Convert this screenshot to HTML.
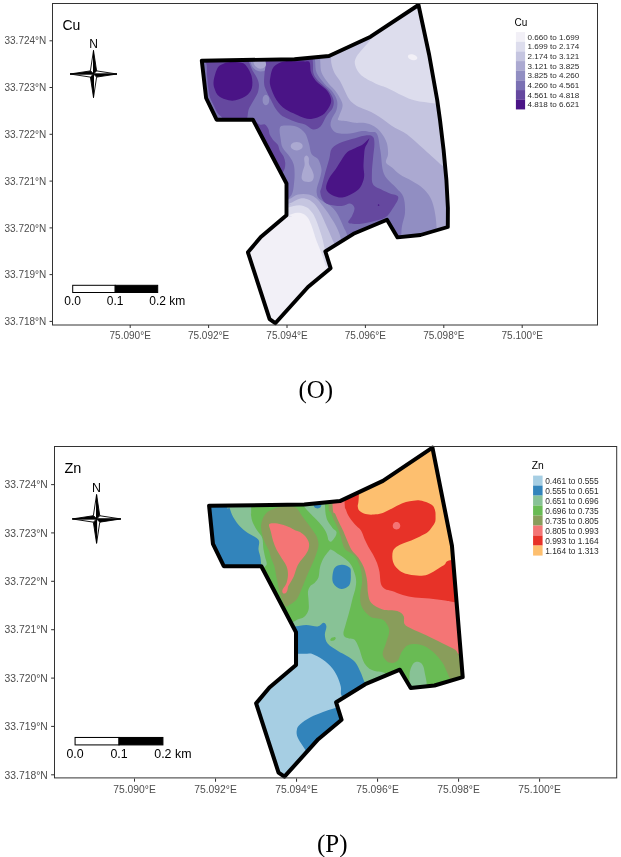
<!DOCTYPE html>
<html><head><meta charset="utf-8"><style>
html,body{margin:0;padding:0;background:#fff;}
svg{display:block;will-change:transform;}
text{font-family:"Liberation Sans",sans-serif;}
.ax{font-size:10px;fill:#4d4d4d;}
.nl{font-size:12px;fill:#000;}
.sb{font-size:12px;fill:#000;}
.pt{font-size:14px;fill:#000;}
.lt{font-size:10px;fill:#000;}
.lg{font-size:8.1px;fill:#2b2b2b;}
.cap{font-family:"Liberation Serif",serif;font-size:25px;fill:#000;}
</style></head><body>
<svg width="621" height="857" viewBox="0 0 621 857">
<rect width="621" height="857" fill="#fff"/>
<g>
<line x1="49.5" y1="321.4" x2="52.5" y2="321.4" stroke="#333" stroke-width="1"/>
<text x="46.3" y="325.0" text-anchor="end" class="ax">33.718°N</text>
<line x1="49.5" y1="274.6" x2="52.5" y2="274.6" stroke="#333" stroke-width="1"/>
<text x="46.3" y="278.2" text-anchor="end" class="ax">33.719°N</text>
<line x1="49.5" y1="227.9" x2="52.5" y2="227.9" stroke="#333" stroke-width="1"/>
<text x="46.3" y="231.5" text-anchor="end" class="ax">33.720°N</text>
<line x1="49.5" y1="181.1" x2="52.5" y2="181.1" stroke="#333" stroke-width="1"/>
<text x="46.3" y="184.7" text-anchor="end" class="ax">33.721°N</text>
<line x1="49.5" y1="134.3" x2="52.5" y2="134.3" stroke="#333" stroke-width="1"/>
<text x="46.3" y="137.9" text-anchor="end" class="ax">33.722°N</text>
<line x1="49.5" y1="87.5" x2="52.5" y2="87.5" stroke="#333" stroke-width="1"/>
<text x="46.3" y="91.1" text-anchor="end" class="ax">33.723°N</text>
<line x1="49.5" y1="40.8" x2="52.5" y2="40.8" stroke="#333" stroke-width="1"/>
<text x="46.3" y="44.4" text-anchor="end" class="ax">33.724°N</text>
<line x1="130.2" y1="325" x2="130.2" y2="328" stroke="#333" stroke-width="1"/>
<text x="130.2" y="338.6" text-anchor="middle" class="ax">75.090°E</text>
<line x1="208.6" y1="325" x2="208.6" y2="328" stroke="#333" stroke-width="1"/>
<text x="208.6" y="338.6" text-anchor="middle" class="ax">75.092°E</text>
<line x1="287.0" y1="325" x2="287.0" y2="328" stroke="#333" stroke-width="1"/>
<text x="287.0" y="338.6" text-anchor="middle" class="ax">75.094°E</text>
<line x1="365.4" y1="325" x2="365.4" y2="328" stroke="#333" stroke-width="1"/>
<text x="365.4" y="338.6" text-anchor="middle" class="ax">75.096°E</text>
<line x1="443.8" y1="325" x2="443.8" y2="328" stroke="#333" stroke-width="1"/>
<text x="443.8" y="338.6" text-anchor="middle" class="ax">75.098°E</text>
<line x1="522.2" y1="325" x2="522.2" y2="328" stroke="#333" stroke-width="1"/>
<text x="522.2" y="338.6" text-anchor="middle" class="ax">75.100°E</text>
<clipPath id="cpo"><polygon points="201.8,60.7 294.5,59.2 329,56 370.6,36.7 418.5,5 429.2,55 437.2,100 440,120 443.6,150 446.4,180 447.9,208 447.8,227 420.5,235 397.5,237.4 387,219.8 353.5,233.8 325.3,251.3 330.6,268.2 308,287 275.3,323.2 269.6,319.2 247.9,252.3 260.8,237 286.5,215.3 286.5,183.5 252.9,119.7 216.6,119.7 206.1,98"/></clipPath>
<g clip-path="url(#cpo)">
<polygon points="201.8,60.7 294.5,59.2 329,56 370.6,36.7 418.5,5 429.2,55 437.2,100 440,120 443.6,150 446.4,180 447.9,208 447.8,227 420.5,235 397.5,237.4 387,219.8 353.5,233.8 325.3,251.3 330.6,268.2 308,287 275.3,323.2 269.6,319.2 247.9,252.3 260.8,237 286.5,215.3 286.5,183.5 252.9,119.7 216.6,119.7 206.1,98" fill="#f2f0f7"/>
<path d="M150,218L280,217C303.1,216.5 285.7,215.8 288.5,215.1C291.3,214.4 294.4,213 296.9,212.8C299.4,212.6 301.6,213.1 303.5,214C305.4,214.9 306.7,216.2 308,218C309.3,219.8 310.3,222.6 311.3,225C312.3,227.4 313,230 313.8,232.5C314.6,235 315.2,237.2 316.2,240C317.2,242.8 318.7,246.2 319.8,249C320.9,251.8 321.7,254.1 322.8,257C323.9,259.9 324.5,263.3 326.2,266.6L333,277L470,277L470,-10L150,-10L150,218Z" fill="#dddded"/>
<path d="M150,208L280,207.5C303.1,207.4 285.3,207.6 288.5,207.2C291.7,206.8 296.1,205.1 299.2,205.2C302.3,205.2 304.8,206.2 307,207.5C309.2,208.8 310.9,210.8 312.5,213C314.1,215.2 315.2,218 316.5,221C317.8,224 318.9,227.8 320,231C321.1,234.2 322,237 322.8,240C323.6,243 323.6,246.1 325,248.9L331,257L470,257L470,104L445,103.6C438.9,103.5 438.1,103.7 433.1,103.2C428.1,102.7 420.2,101.9 415.1,100.6C410,99.3 406.9,97.7 402.2,95.5C397.5,93.3 391.2,89.7 386.7,87.7C382.2,85.7 379.6,85.5 375.3,83.4C371.1,81.3 364.6,78.3 361.2,75.3C357.8,72.3 356,68.3 355.2,65.3C354.4,62.3 354.7,60.2 356.2,57.2C357.7,54.2 361.6,50.5 364.3,47.1C367,43.8 369.7,41.6 372.3,37.1L380,20L380,-10L150,-10L150,208Z" fill="#c5c5e0"/>
<path d="M150,204L280,204C303.1,204 285.1,204.7 288.5,203.8C291.9,202.9 297,199.2 300.3,198.5C303.6,197.8 305.8,198.6 308.2,199.5C310.6,200.4 312.7,202.2 314.5,204C316.3,205.8 317.6,208 318.8,210C320.1,212 320.8,213.6 322,216C323.2,218.4 324.5,221.6 325.8,224.5C327.1,227.4 328.6,230.8 329.8,233.5C331,236.2 331.8,238.4 333,241L337,249L470,252L470,176L452,172C447.3,170.2 444.5,167.2 441.7,165.1C438.9,163 437.7,161.7 435.3,159.5C432.9,157.3 429.9,154.6 427.2,152.2C424.5,149.8 421.9,147.4 419.2,145C416.5,142.6 413.8,139.9 411.1,137.7C408.5,135.5 405.9,133.6 403.3,132C400.7,130.4 398,129.6 395.3,128C392.6,126.4 389.9,124.3 387.2,122.4C384.5,120.5 381.9,118.5 379.2,116.7C376.5,115 373.8,113.2 371.1,111.9C368.4,110.6 365.7,109.9 363,108.7C360.3,107.5 357.3,106.3 355,104.7C352.7,103.1 351,101.8 349.2,99.3C347.4,96.8 345.8,92.8 344.3,89.7C342.8,86.7 341.6,83.8 340,81C338.4,78.2 335.9,75.8 334.5,73C333.1,70.2 332.1,66.8 331.5,64C330.9,61.2 331.2,60 331,56L330,40L330,-10L150,-10L150,204Z" fill="#aba9d1"/>
<path d="M150,-10L320,-10L320.2,50C320.2,62 320.1,58.1 320.3,62C320.6,65.8 320.2,69.4 321.7,73.1C323.1,76.8 326.7,81 329,84C331.3,87 333.5,88.3 335.5,91C337.5,93.7 339.8,97.4 341,100C342.2,102.6 342.8,103.8 342.5,106.4C342.2,109 340,113.2 339.3,115.4C338.6,117.7 337.1,119 338.2,119.9C339.3,120.8 343.3,120.5 346.1,121C348.9,121.5 352.2,122.5 355,122.8C357.8,123.1 360.3,122.5 363,122.8C365.7,123.1 368.7,123.8 371.1,124.8C373.5,125.8 375.6,127.2 377.5,128.8C379.4,130.4 381,132.6 382.4,134.5C383.8,136.4 384.8,138.2 385.6,140.1C386.5,142 387.1,143.6 387.5,146C387.9,148.4 388.2,151.9 388,154.7C387.8,157.4 385.3,160.3 386,162.5C386.7,164.7 389.7,165.6 392,167.6C394.3,169.6 396.7,172.3 400,174.5C403.3,176.7 408.2,178.8 412,181C415.8,183.2 419.5,185.3 422.5,188C425.5,190.7 428.1,193.7 430,197C431.9,200.3 432.9,203.1 434,208C435.1,212.9 436,217.5 436.5,226.5L437,262L354,262L342,241C339.6,236.3 340.4,236.3 339.5,234C338.6,231.7 337.7,229.3 336.5,227C335.3,224.7 334.1,222.6 332.5,220C330.9,217.4 328.8,214 327,211.5C325.2,209 323.8,207.2 322,205C320.2,202.8 318.7,200.2 316.5,198.5C314.3,196.8 312.1,195.2 309,194.5C305.9,193.8 301.3,193.7 298,194.5C294.7,195.3 292.7,197.7 289,199.3L276,204L150,204L150,-10Z" fill="#918ec2"/>
<path d="M150,-10L315,-10L315,52C315,64 314.9,58.5 315.2,62C315.5,65.5 315.1,69.4 316.7,73.1C318.3,76.8 322.1,81 324.6,84C327.1,87 329.8,88.2 331.9,91C334,93.8 336.2,97.3 337,100.5C337.8,103.7 337.4,106.8 336.5,110C335.6,113.2 332.3,117.1 331.4,119.9C330.5,122.7 330.1,124.8 331,127C331.9,129.2 333.8,131.9 337,133C340.2,134.1 345.8,133.8 350,133.5C354.2,133.2 358.7,131.2 362,131C365.3,130.8 367.5,131.5 370,132C372.5,132.5 375.2,130.8 377,134C378.8,137.2 379.3,144.6 380.5,151.3C381.7,158 381.4,167.9 384,174C386.6,180.1 393.1,184.2 396.3,188C399.5,191.8 401.9,192.7 403.3,196.8C404.8,200.9 405.3,207 405,212.5C404.7,218 402.3,221.8 401.5,230L400,262L354,262L347.5,236C345.8,230.3 345.2,230.7 344,228C342.8,225.3 341.8,222.7 340.5,220C339.2,217.3 337.8,214.1 336,211.7C334.2,209.3 332.2,207.2 330,205.5C327.8,203.8 324.9,202.8 323,201.5C321.1,200.2 319.6,199.4 318.5,198C317.4,196.6 316.9,194.8 316.7,193C316.4,191.2 316.6,189.5 317,187.5C317.4,185.5 318.3,183.4 319,181.2C319.7,178.9 320.6,176.2 321,174C321.4,171.8 321.8,170.5 321.3,168C320.8,165.5 319.6,161.4 318,159.1C316.4,156.8 313,156.6 311.5,154C310,151.4 310.1,147.1 309,143.7C307.9,140.2 307,136.1 305.1,133.3C303.2,130.5 300.6,128.2 297.4,126.9C294.2,125.6 288.7,125.4 285.8,125.6C282.9,125.8 280.6,125.5 279.8,127.9C279,130.3 280.3,136.5 280.8,139.8C281.3,143.1 281.2,144.9 282.7,147.7C284.2,150.5 287.9,153.9 289.7,156.7C291.5,159.5 292.9,161.6 293.7,164.6C294.5,167.6 294.6,170.9 294.6,174.5C294.6,178.1 294.2,183 293.7,186.4C293.2,189.8 292.9,192.2 291.5,195L285,203L150,203L150,-10Z" fill="#7a70b3"/>
<path d="M249,58L250.5,62.1C251.1,63.6 251.5,65.6 252.6,67C253.7,68.4 255.4,69.8 256.8,70.5C258.2,71.2 259.6,71.4 261,71.4C262.4,71.4 264,71.2 265.2,70.5C266.4,69.8 267.3,68.4 268,67C268.7,65.6 269.1,63.6 269.4,62.1L270,58L249,58Z" fill="#918ec2"/>
<path d="M252.5,58L253.3,62.1C253.8,63.5 254.2,65.2 255.4,66.3C256.6,67.4 258.7,68.7 260.3,68.8C261.9,68.9 264,67.9 265.2,66.8C266.4,65.7 266.8,63.6 267.3,62.1L268,58L252.5,58Z" fill="#aba9d1"/>
<path d="M269.2,100C269.2,100.9 269,101.9 268.8,102.7C268.5,103.4 268,104.1 267.5,104.6C267.1,105 266.4,105.3 265.9,105.3C265.3,105.3 264.7,105 264.2,104.6C263.8,104.1 263.3,103.4 263,102.7C262.8,101.9 262.6,100.9 262.6,100C262.6,99.1 262.8,98.1 263,97.3C263.3,96.6 263.8,95.9 264.2,95.4C264.7,95 265.3,94.7 265.9,94.7C266.4,94.7 267.1,95 267.5,95.4C268,95.9 268.5,96.6 268.8,97.3C269,98.1 269.2,99.1 269.2,100Z" fill="#918ec2"/>
<path d="M302.7,146.2C302.7,146.9 302.4,147.7 301.9,148.3C301.4,148.9 300.6,149.5 299.7,149.8C298.8,150.2 297.7,150.4 296.7,150.4C295.7,150.4 294.6,150.2 293.7,149.8C292.8,149.5 292,148.9 291.5,148.3C291,147.7 290.7,146.9 290.7,146.2C290.7,145.5 291,144.7 291.5,144.1C292,143.5 292.8,142.9 293.7,142.6C294.6,142.2 295.7,142 296.7,142C297.7,142 298.8,142.2 299.7,142.6C300.6,142.9 301.4,143.5 301.9,144.1C302.4,144.7 302.7,145.5 302.7,146.2Z" fill="#aba9d1"/>
<path d="M306.4,155.5C307.2,155.5 308.4,156.6 308.8,158C309.2,159.4 308.5,162 309,164C309.5,166 311.2,168 312,170C312.8,172 313.8,174.2 313.8,176C313.8,177.8 313.3,180 312,181C310.7,182 307.7,182.1 306,181.8C304.3,181.5 302.4,180.6 301.8,179C301.2,177.4 302,174.3 302.5,172C303,169.7 304.3,167.3 304.6,165C304.9,162.7 303.9,159.6 304.2,158C304.5,156.4 305.6,155.5 306.4,155.5Z" fill="#aba9d1"/>
<path d="M150,-10L249,-10L249,58C249.1,70.2 248.9,60.9 249.5,63C250.1,65.1 251.2,68 252.5,70.5C253.8,73 255.9,75.7 257,78C258.1,80.3 258.7,82.2 258.9,84.5C259.1,86.8 258.6,89.8 258,92C257.4,94.2 256.1,96 255,98C253.9,100 252.6,102 251.5,104C250.4,106 249.3,107.3 248.5,110C247.7,112.7 247.9,117.5 246.5,120L240,125L150,125L150,-10Z" fill="#65489f"/>
<path d="M264.5,74C264.8,70.8 265.1,67.5 266,65C266.9,62.5 262.7,60.1 270,59C277.3,57.9 302.9,58.2 310,58.5C317.1,58.8 312.1,58.6 312.7,61C313.3,63.4 312.7,70 313.4,73.1C314.1,76.2 315.6,77.7 317,79.5C318.4,81.3 319.7,82.1 321.7,84C323.7,85.9 327,88.3 329,91C331,93.7 332.9,97.2 333.5,100C334.1,102.8 333.8,105.3 332.6,108C331.4,110.7 328.5,112.9 326.5,116C324.5,119.1 322.8,124.2 320.5,126.5C318.2,128.8 315.6,129.8 313,129.5C310.4,129.2 307.8,125.8 305,124.5C302.2,123.2 298.8,123 296,122C293.2,121 290.5,120 288,118.8C285.5,117.6 283.1,116.7 281,115C278.9,113.3 277.2,111 275.5,108.5C273.8,106 272.5,102.8 271,100C269.5,97.2 267.7,94.1 266.6,91.5C265.5,88.9 264.6,87.4 264.2,84.5C263.8,81.6 264.2,77.2 264.5,74Z" fill="#65489f"/>
<path d="M250,118L259.4,124.4C261.9,125.5 263.4,123.7 264.9,124.4C266.4,125.2 267.6,127.2 268.4,128.9C269.2,130.6 268.9,132.8 269.8,134.8C270.7,136.8 272.5,139.1 273.8,140.8C275.1,142.5 276.8,143.2 277.8,144.8C278.8,146.5 278.8,148.7 279.8,150.7C280.8,152.7 282.8,154.7 283.7,156.7C284.6,158.7 285,160.6 285.2,162.6C285.4,164.6 285.1,166.9 284.7,168.6C284.3,170.2 283.5,171.3 282.7,172.5L280,176L250,176L250,118Z" fill="#65489f"/>
<path d="M366.7,135.3C369.7,135.1 371.8,135.4 373.1,136.9C374.4,138.4 374.4,141.2 374.4,144.6C374.4,148 373.5,152.8 373.1,157.5C372.7,162.2 371.9,168.5 371.9,173C371.9,177.5 371.4,181.8 373.1,184.6C374.8,187.4 379.4,188.5 382.2,190C385,191.5 387.3,192.3 390,193.5C392.7,194.7 397.9,194.6 398.3,197.2C398.7,199.8 394.7,205.4 392.5,208.8C390.3,212.2 388.8,215.3 385.2,217.5C381.6,219.7 375.5,220.8 370.7,221.9C365.9,223 359.9,223.9 356.2,224C352.5,224.1 349,223.9 348.3,222.6C347.6,221.3 351,218.4 352,216C353,213.6 354.8,210.1 354.5,208C354.2,205.9 352.1,203.8 350,203.5C347.9,203.2 345.2,205.8 341.7,206C338.1,206.2 331.8,205.5 328.7,204.5C325.6,203.5 324.3,202 322.9,200C321.5,198 320.5,194.4 320.3,192.3C320.1,190.2 320.7,190.6 321.6,187.2C322.5,183.8 324.2,176.4 325.5,171.7C326.8,167 328.2,162.7 329.3,158.8C330.4,154.9 329.8,151.3 331.9,148.5C334,145.7 338.3,143.8 342.2,142.1C346.1,140.4 351,139.3 355.1,138.2C359.2,137.1 363.7,135.5 366.7,135.3Z" fill="#65489f"/>
<path d="M195,58L205.6,62C207.6,64.8 206.6,70.7 207,75C207.4,79.3 207.8,84.2 208.3,88C208.8,91.8 209.1,94.7 210,97.5C210.9,100.3 212.2,102.4 213.5,105C214.8,107.6 216.1,110.9 217.5,113C218.9,115.1 221.2,116 222,117.8L222,124L205,124L195,58Z" fill="#7a70b3"/>
<path d="M213.7,80.5C214.2,77 216,70.5 217.7,67.7C219.4,64.9 221.8,64.5 224,63.5C226.2,62.5 228.3,62.2 230.6,62C232.9,61.8 235.6,61.9 238,62.3C240.4,62.7 242.8,62.2 245.1,64.4C247.3,66.6 250.4,71.7 251.5,75.7C252.6,79.7 252.8,85.1 251.7,88.6C250.6,92.1 248.3,94.6 245.1,96.6C241.8,98.6 236.5,100.7 232.2,100.7C227.9,100.7 222.2,98.6 219.3,96.6C216.4,94.6 215.4,91.3 214.5,88.6C213.6,85.9 213.2,84 213.7,80.5Z" fill="#4a1486"/>
<path d="M270.4,77C271,73.8 271.5,69.4 273.8,66.8C276.1,64.2 280.1,62.4 284,61.5C287.9,60.6 293.5,61.3 297,61.3C300.5,61.3 302.9,61.2 305,61.4C307.1,61.6 308.6,60.7 309.6,62.5C310.6,64.3 310.1,69.2 310.9,72C311.7,74.8 313.1,77 314.5,79C315.9,81 317.4,82.3 319.6,84.3C321.8,86.3 325.6,88.6 327.5,91.2C329.4,93.8 330.9,97.2 331.2,99.9C331.4,102.6 330.4,104.7 329,107.2C327.6,109.7 325.3,113.1 322.5,115C319.7,116.9 315.3,118.3 312.3,118.8C309.3,119.3 307,118.7 304.3,118C301.6,117.3 299.1,116 296,114.5C292.9,113 288.8,111.7 285.5,109.3C282.2,106.9 279,103.9 276.5,100C274,96.1 271.4,89.8 270.4,86C269.4,82.2 269.8,80.2 270.4,77Z" fill="#4a1486"/>
<path d="M369.3,138.5C369.5,138.8 368.2,141.4 367.5,143C366.8,144.6 365.6,146 365,148C364.4,150 364.4,151.9 364.1,155C363.9,158.1 363.5,162.8 363.5,166.5C363.5,170.2 364.6,173.5 364.1,176.9C363.6,180.3 362.2,184.4 360.3,187.2C358.4,190 355.5,191.9 352.5,193.6C349.5,195.3 345.6,197.3 342.2,197.5C338.8,197.7 334.6,196.4 331.9,194.9C329.2,193.4 326.5,191.3 326.1,188.5C325.7,185.7 327.7,181.3 329.3,178.1C330.9,174.9 333.7,172.3 335.8,169.1C337.9,165.9 340.3,161.7 342.2,158.8C344.1,156 345.3,153.8 347.4,152C349.5,150.2 352.6,149.4 355,148.2C357.4,147 360.1,146.2 362,145C363.9,143.8 365.3,142.1 366.5,141C367.7,139.9 369.1,138.2 369.3,138.5Z" fill="#4a1486"/>
<path d="M379.4,205.1C379.4,205.2 379.4,205.4 379.3,205.5C379.2,205.6 379.1,205.7 379,205.8C378.9,205.9 378.7,205.9 378.6,205.9C378.5,205.9 378.3,205.9 378.2,205.8C378.1,205.7 378,205.6 377.9,205.5C377.8,205.4 377.8,205.2 377.8,205.1C377.8,205 377.8,204.8 377.9,204.7C378,204.6 378.1,204.5 378.2,204.4C378.3,204.3 378.5,204.3 378.6,204.3C378.7,204.3 378.9,204.3 379,204.4C379.1,204.5 379.2,204.6 379.3,204.7C379.4,204.8 379.4,205 379.4,205.1Z" fill="#4a1486"/>
<path d="M417.2,58.4C417.1,58.9 416.7,59.3 416.3,59.6C415.8,59.9 415,60.1 414.3,60.2C413.6,60.2 412.6,60.1 411.9,59.9C411.1,59.7 410.3,59.3 409.7,58.9C409,58.5 408.5,58 408.2,57.5C407.9,57 407.8,56.4 408,56C408.1,55.5 408.5,55.1 408.9,54.8C409.4,54.5 410.2,54.3 410.9,54.2C411.6,54.2 412.6,54.3 413.3,54.5C414.1,54.7 414.9,55.1 415.5,55.5C416.2,55.9 416.7,56.4 417,56.9C417.3,57.4 417.4,58 417.2,58.4Z" fill="#f2f0f7"/>
</g>
<polygon points="201.8,60.7 294.5,59.2 329,56 370.6,36.7 418.5,5 429.2,55 437.2,100 440,120 443.6,150 446.4,180 447.9,208 447.8,227 420.5,235 397.5,237.4 387,219.8 353.5,233.8 325.3,251.3 330.6,268.2 308,287 275.3,323.2 269.6,319.2 247.9,252.3 260.8,237 286.5,215.3 286.5,183.5 252.9,119.7 216.6,119.7 206.1,98" fill="none" stroke="#000" stroke-width="3.9" stroke-linejoin="round"/>
<text x="62.5" y="30" class="pt">Cu</text>
<text x="93.5" y="47.6" text-anchor="middle" class="nl">N</text>
<polygon points="93.5,74 93.5,50.5 90.4,70.9" fill="#fff" stroke="#000" stroke-width="0.9" stroke-linejoin="miter"/>
<polygon points="93.5,74 93.5,50.5 96.6,70.9" fill="#000" stroke="#000" stroke-width="0.9" stroke-linejoin="miter"/>
<polygon points="93.5,74 117,74 96.6,70.9" fill="#fff" stroke="#000" stroke-width="0.9" stroke-linejoin="miter"/>
<polygon points="93.5,74 117,74 96.6,77.1" fill="#000" stroke="#000" stroke-width="0.9" stroke-linejoin="miter"/>
<polygon points="93.5,74 93.5,97.5 96.6,77.1" fill="#fff" stroke="#000" stroke-width="0.9" stroke-linejoin="miter"/>
<polygon points="93.5,74 93.5,97.5 90.4,77.1" fill="#000" stroke="#000" stroke-width="0.9" stroke-linejoin="miter"/>
<polygon points="93.5,74 70,74 90.4,77.1" fill="#fff" stroke="#000" stroke-width="0.9" stroke-linejoin="miter"/>
<polygon points="93.5,74 70,74 90.4,70.9" fill="#000" stroke="#000" stroke-width="0.9" stroke-linejoin="miter"/>
<rect x="72.7" y="285.3" width="42.5" height="7.2" fill="#fff" stroke="#000" stroke-width="1"/>
<rect x="115.2" y="285.3" width="42.5" height="7.2" fill="#000" stroke="#000" stroke-width="1"/>
<text x="72.7" y="305" text-anchor="middle" class="sb">0.0</text>
<text x="115.2" y="305" text-anchor="middle" class="sb">0.1</text>
<text x="149.35" y="305" class="sb">0.2 km</text>
<text x="514.6" y="25.6" class="lt">Cu</text>
<rect x="515.9" y="32.10" width="9.2" height="9.71" fill="#f2f0f7"/>
<text x="527.6" y="39.83" class="lg">0.660 to 1.699</text>
<rect x="515.9" y="41.76" width="9.2" height="9.71" fill="#dddded"/>
<text x="527.6" y="49.49" class="lg">1.699 to 2.174</text>
<rect x="515.9" y="51.42" width="9.2" height="9.71" fill="#c5c5e0"/>
<text x="527.6" y="59.15" class="lg">2.174 to 3.121</text>
<rect x="515.9" y="61.08" width="9.2" height="9.71" fill="#aba9d1"/>
<text x="527.6" y="68.81" class="lg">3.121 to 3.825</text>
<rect x="515.9" y="70.74" width="9.2" height="9.71" fill="#918ec2"/>
<text x="527.6" y="78.47" class="lg">3.825 to 4.260</text>
<rect x="515.9" y="80.40" width="9.2" height="9.71" fill="#7a70b3"/>
<text x="527.6" y="88.13" class="lg">4.260 to 4.561</text>
<rect x="515.9" y="90.06" width="9.2" height="9.71" fill="#65489f"/>
<text x="527.6" y="97.79" class="lg">4.561 to 4.818</text>
<rect x="515.9" y="99.72" width="9.2" height="9.71" fill="#4a1486"/>
<text x="527.6" y="107.45" class="lg">4.818 to 6.621</text>
</g>
<g transform="matrix(1.0334 0 0 1.0342 -0.05 442.41)">
<line x1="49.5" y1="321.4" x2="52.5" y2="321.4" stroke="#333" stroke-width="1"/>
<text x="46.3" y="325.0" text-anchor="end" class="ax">33.718°N</text>
<line x1="49.5" y1="274.6" x2="52.5" y2="274.6" stroke="#333" stroke-width="1"/>
<text x="46.3" y="278.2" text-anchor="end" class="ax">33.719°N</text>
<line x1="49.5" y1="227.9" x2="52.5" y2="227.9" stroke="#333" stroke-width="1"/>
<text x="46.3" y="231.5" text-anchor="end" class="ax">33.720°N</text>
<line x1="49.5" y1="181.1" x2="52.5" y2="181.1" stroke="#333" stroke-width="1"/>
<text x="46.3" y="184.7" text-anchor="end" class="ax">33.721°N</text>
<line x1="49.5" y1="134.3" x2="52.5" y2="134.3" stroke="#333" stroke-width="1"/>
<text x="46.3" y="137.9" text-anchor="end" class="ax">33.722°N</text>
<line x1="49.5" y1="87.5" x2="52.5" y2="87.5" stroke="#333" stroke-width="1"/>
<text x="46.3" y="91.1" text-anchor="end" class="ax">33.723°N</text>
<line x1="49.5" y1="40.8" x2="52.5" y2="40.8" stroke="#333" stroke-width="1"/>
<text x="46.3" y="44.4" text-anchor="end" class="ax">33.724°N</text>
<line x1="130.2" y1="325" x2="130.2" y2="328" stroke="#333" stroke-width="1"/>
<text x="130.2" y="338.6" text-anchor="middle" class="ax">75.090°E</text>
<line x1="208.6" y1="325" x2="208.6" y2="328" stroke="#333" stroke-width="1"/>
<text x="208.6" y="338.6" text-anchor="middle" class="ax">75.092°E</text>
<line x1="287.0" y1="325" x2="287.0" y2="328" stroke="#333" stroke-width="1"/>
<text x="287.0" y="338.6" text-anchor="middle" class="ax">75.094°E</text>
<line x1="365.4" y1="325" x2="365.4" y2="328" stroke="#333" stroke-width="1"/>
<text x="365.4" y="338.6" text-anchor="middle" class="ax">75.096°E</text>
<line x1="443.8" y1="325" x2="443.8" y2="328" stroke="#333" stroke-width="1"/>
<text x="443.8" y="338.6" text-anchor="middle" class="ax">75.098°E</text>
<line x1="522.2" y1="325" x2="522.2" y2="328" stroke="#333" stroke-width="1"/>
<text x="522.2" y="338.6" text-anchor="middle" class="ax">75.100°E</text>
<clipPath id="cpp"><polygon points="202.4,61.2 294.5,60.1 329,56.7 370.6,37.2 418.5,5 437.4,100 447.8,227 420.5,235 397.5,237.4 387,219.8 353.5,233.8 325.3,251.3 330.6,268.2 308,287 275.3,323.2 269.6,319.2 247.9,252.3 260.8,237 286.5,215.3 286.5,183.5 252.9,119.7 216.6,119.7 206.1,98"/></clipPath>
<g clip-path="url(#cpp)">
<polygon points="202.4,61.2 294.5,60.1 329,56.7 370.6,37.2 418.5,5 437.4,100 447.8,227 420.5,235 397.5,237.4 387,219.8 353.5,233.8 325.3,251.3 330.6,268.2 308,287 275.3,323.2 269.6,319.2 247.9,252.3 260.8,237 286.5,215.3 286.5,183.5 252.9,119.7 216.6,119.7 206.1,98" fill="#a6cee3"/>
<path d="M145.2,204.3L287.9,204.3C313.6,204.2 295.4,203 299.1,203.6C302.7,204.3 306.3,206.2 309.7,208.3C313.1,210.4 317,213.3 319.7,216.2C322.4,219 324.3,222.1 326,225.4C327.7,228.7 329,232.7 329.8,236C330.6,239.3 329,242.7 330.8,245.2L340.7,251L483.9,251L483.9,-41L145.2,-41L145.2,204.3Z" fill="#3284bb"/>
<path d="M145.2,-41L218.7,-41L219.5,54.7C220.1,72.1 221.1,60.2 222.1,63.1C223.2,66.1 224.1,69.4 225.8,72.4C227.5,75.4 229.8,78.6 232.1,81.1C234.4,83.6 236.9,85.5 239.5,87.4C242.2,89.3 246.4,91 248.3,92.4C250.1,93.9 250.5,94.2 250.8,96.1C251.1,98 250,101.1 250.2,103.5C250.4,106 251.6,108.4 252,111.1C252.5,113.7 252.6,115.8 252.9,119.5L253.6,133L280.7,177.9L285,177.9C287.6,177.7 292.5,176.5 296.3,176.5C300,176.5 304.7,178.2 307.5,177.9C310.3,177.6 311.7,174.4 313.1,174.4C314.5,174.4 315.7,175.9 315.9,177.9C316.1,179.9 314.2,183.5 314.4,186.3C314.7,189.1 315.1,192.2 317.3,194.7C319.4,197.3 324,199.7 327.1,201.7C330.2,203.7 333.1,204.8 335.8,206.5C338.6,208.3 341.4,209.7 343.6,212.3C345.8,214.9 347.4,218.9 348.9,222C350.3,225.1 351.1,227.8 352.3,230.7L356.2,239.4L483.9,239.4L483.9,-41L145.2,-41Z" fill="#88c296"/>
<path d="M145.2,-41L243.1,-41L243.1,62.9C243.1,81.1 242.8,66.1 242.9,68.3C243.1,70.4 243.2,73.5 244.1,76.1C245,78.7 246.6,81.6 248.1,83.9C249.5,86.3 251.7,88.3 252.7,90.1C253.7,91.9 253.9,92.5 254.3,94.7C254.6,97 254.6,100.6 255,103.4C255.4,106.1 256.1,108.6 256.6,111.1C257.1,113.6 258.8,116.2 257.9,118.5L251.6,125.3L280.7,173.7L283.6,173.7C284.8,173.2 286.2,172 287.9,171.2C289.7,170.4 292.4,170.3 294.2,168.8C296,167.3 297.9,164.8 298.6,162C299.3,159.3 298.7,155.4 298.6,152.4C298.5,149.4 297.8,146.4 298.1,144.2C298.4,141.9 299.5,140 300.5,138.6C301.6,137.3 303.1,137.3 304.4,135.9C305.7,134.6 307.4,133 308.3,130.4C309.1,127.9 308.9,123.7 309.7,120.7C310.5,117.6 311.7,114.5 313.1,112C314.5,109.4 316.7,106.9 317.9,105.5C319.2,104.1 319,103.2 320.7,103.7C322.5,104.3 325.8,106.9 328.4,108.7C330.9,110.4 334,112.3 336,114.1C338,115.9 339.1,117.2 340.4,119.6C341.7,122 342.9,125.8 343.7,128.3C344.4,130.8 344.7,132.5 344.7,134.9C344.7,137.2 344.2,139.9 343.7,142.4C343.1,144.9 342.2,147.3 341.4,150.1C340.7,152.8 340,156.1 339.3,158.9C338.6,161.6 338.1,163.5 337.3,166.4C336.5,169.3 335.2,173.7 334.4,176.6C333.6,179.5 332.6,182 332.4,183.8C332.3,185.7 332.5,186.7 333.4,187.7C334.3,188.6 336.1,189.1 337.8,189.6C339.4,190.1 341.6,189.4 343.2,190.9C344.8,192.4 345.9,195.2 347.3,198.6C348.8,202 350.1,208.1 351.6,211.3C353.1,214.4 354.3,216 356.2,217.6C358,219.3 359.7,220 362.6,221C365.5,222.1 370.8,220.9 373.6,223.9L379.4,239.4L483.9,239.4L483.9,-41L145.2,-41Z" fill="#69bb54"/>
<path d="M252.7,80C253,77.4 254.1,74.3 255,72.2C256,70.2 257.1,68.9 258.4,67.8C259.7,66.6 261.2,66 262.9,65.2C264.6,64.4 266.6,63.5 268.6,63C270.5,62.5 272.5,62.2 274.5,62.1C276.5,61.9 278.6,61.7 280.7,62C282.7,62.2 285,62.1 286.9,63.4C288.7,64.8 290.1,67.9 291.7,70.2C293.3,72.4 295.1,74.9 296.6,77C298.2,79.1 299.7,81 301,82.8C302.3,84.5 303.4,86.1 304.4,87.6C305.4,89.1 306.3,90.2 306.9,91.9C307.5,93.7 308.2,96.2 308.3,98.2C308.3,100.2 308,101.6 307.3,104C306.6,106.5 305.5,109.7 304.2,113C302.8,116.4 300.7,120.8 299.2,124.2C297.7,127.7 296.6,130.1 295.2,133.6C293.7,137.1 291.9,142.2 290.4,145.3C289,148.4 288.3,150.3 286.6,152.3C284.9,154.2 282,156 280.3,157C278.6,158.1 277.7,159.6 276.4,158.6C275.1,157.5 273.6,153.3 272.5,150.7C271.5,148.1 270.9,145.6 270.2,143C269.6,140.4 269.1,137.8 268.6,135.2C268,132.6 267.5,130 267,127.4C266.5,124.8 266.3,122.2 265.5,119.6C264.7,117 263.3,114.4 262.4,111.8C261.5,109.2 261.2,106.7 260.1,104C259,101.3 256.9,98.2 255.8,95.5C254.7,92.8 254,90.4 253.5,87.8C253,85.2 252.5,82.6 252.7,80Z" fill="#899d5b"/>
<path d="M317.4,-2.3L318,60.2C318.4,71.7 319.2,64.4 320,66.7C320.8,69 321.7,71.8 322.8,74.3C323.9,76.7 325.3,79.1 326.4,81.7C327.6,84.3 328.7,87.5 329.5,90.1C330.4,92.8 330.6,95.2 331.5,97.6C332.3,99.9 332.7,102 334.7,104C336.6,106 340.8,106.8 343.1,109.6C345.4,112.4 347.5,116.8 348.7,120.9C349.9,124.9 350.5,129.7 350.5,133.9C350.5,138.1 348.9,142.4 348.7,146.1C348.5,149.8 348.4,153.4 349.2,156.3C350,159.3 351.6,161.6 353.3,163.8C355.1,166 357.8,168.3 359.9,169.4C362,170.5 363.8,169.8 365.8,170.3C367.8,170.8 370.1,170.6 371.9,172.5C373.7,174.4 376.4,178.1 376.7,181.8C376.9,185.4 374.5,190.3 373.5,194.2C372.4,198.1 369.8,202.1 370.4,205.2C370.9,208.3 374.3,211.9 376.7,212.9C379,213.9 382.3,213.2 384.4,211.4C386.5,209.6 387.2,204.7 389.1,202.1C390.9,199.5 392.2,196.8 395.3,195.8C398.5,194.7 403.9,194.7 407.8,195.8C411.7,196.8 415.3,199.2 418.7,202.1C422,204.9 425.7,209.5 428.1,212.9C430.4,216.3 431.4,219.7 432.7,222.3C434,224.9 433.7,225.6 435.8,228.5L445.2,239.4L483.9,239.4L483.9,-2.3L317.4,-2.3Z" fill="#899d5b"/>
<path d="M260.5,79.2C261.3,77.8 264.4,78.1 266.7,78.2C269.1,78.3 272.1,79.2 274.5,79.9C276.8,80.5 278.9,81.4 280.8,82.3C282.6,83.1 283.9,84.2 285.5,84.9C287.1,85.6 288.7,85.6 290.4,86.6C292,87.6 294.3,89.3 295.7,91C297.1,92.7 298.4,94.8 298.9,96.8C299.4,98.8 299.2,101 298.6,103.1C298,105.2 296.5,107.4 295.2,109.4C293.9,111.3 292.1,112.9 290.8,114.7C289.6,116.4 288.8,117.5 287.6,120C286.5,122.5 285.4,127 284.2,129.8C282.9,132.5 281.2,135 280.3,136.7C279.4,138.4 279.1,138.7 278.7,139.8C278.4,140.9 278.5,142.2 278.1,143.2C277.7,144.2 277,145.5 276.3,145.9C275.6,146.3 274.4,146.2 273.9,145.8C273.4,145.4 273.1,144.3 273.2,143.5C273.3,142.6 273.7,142 274.4,140.8C275.1,139.5 276.6,138.2 277.3,135.9C278,133.7 278.8,130.2 278.7,127.4C278.7,124.7 278.2,122.2 277.2,119.6C276.2,117 274.1,114.4 272.5,111.8C271,109.2 269.2,106.7 267.8,104C266.5,101.3 265.4,98.5 264.4,95.5C263.5,92.6 262.7,89 262.1,86.2C261.5,83.5 259.8,80.5 260.5,79.2Z" fill="#f47575"/>
<path d="M321.3,-2.3L321.8,60.2C322.4,72.2 323.5,66.6 324.6,69.5C325.7,72.5 327.1,75.3 328.4,77.9C329.6,80.6 330.8,82.6 332.1,85.4C333.3,88.1 334.5,91.3 335.8,94.4C337.2,97.5 338.4,101.2 340.3,104C342.1,106.9 344.8,108.5 346.9,111.5C348.9,114.4 351.1,118.1 352.5,121.8C353.9,125.6 354.7,129.9 355.3,133.9C355.9,138 355.5,142.5 356.2,146.1C356.8,149.7 357.1,152.8 359.4,155.4C361.8,158 366.2,160.3 370.4,161.6C374.5,162.9 381,162.1 384.4,163.1C387.8,164.1 389.4,165.7 390.6,167.8C391.8,169.8 390.2,173.5 391.5,175.6C392.8,177.7 394.9,178.4 398.4,180.2C401.9,182 407.5,184.2 412.5,186.5C417.4,188.8 423.4,191.9 428.1,194.2C432.7,196.6 437.7,198.7 440.5,200.5C443.4,202.4 441.2,203.5 445.2,205.2L464.5,210.4L464.5,-2.3L321.3,-2.3Z" fill="#f47575"/>
<path d="M332,-2.3L333.4,55.7C333.9,67 334.1,62.5 334.9,65.4C335.7,68.2 336.8,70.3 338.3,72.6C339.7,74.9 341.7,77.3 343.6,79.4C345.4,81.5 347.8,82.8 349.4,85.2C350.9,87.5 351.6,90.7 352.8,93.4C354,96.1 355.3,98.6 356.6,101.1C358,103.6 359.6,105.8 361,108.4C362.4,111 363.8,113.8 364.9,116.6C365.9,119.4 366.6,121.9 367.3,125.3C367.9,128.7 367.8,134.2 368.7,136.9C369.6,139.6 370.8,140.6 372.6,141.7C374.4,142.9 376.5,142.7 379.4,143.7C382.2,144.6 386.1,146.5 389.8,147.5C393.5,148.6 397.3,149.4 401.6,150C405.9,150.5 410.7,150.4 415.6,150.9C420.4,151.4 426.5,152.3 430.7,152.9C434.8,153.5 434.9,153.9 440.5,154.5L464.5,156.2L464.5,-2.3L332,-2.3Z" fill="#e73228"/>
<path d="M338.7,-2.3L347.3,-2.3L347.3,50.3C347.1,61.1 345.9,59.6 346.3,62.5C346.6,65.3 347.9,66.1 349.4,67.3C350.9,68.5 353.3,69.1 355.4,69.5C357.5,69.9 359.6,69.9 362,69.7C364.3,69.5 367,69.4 369.6,68.5C372.2,67.7 374.8,66.2 377.4,64.9C380.1,63.5 383.2,61.6 385.8,60.4C388.3,59.2 390.6,58.3 392.9,57.6C395.3,56.9 397.7,56.6 400,56.4C402.2,56.1 404.1,55.8 406.5,56.2C408.8,56.5 412,57.5 414.1,58.4C416.2,59.3 417.9,60.1 419.1,61.5C420.2,62.8 420.8,64.9 421.2,66.5C421.6,68.1 421.5,69.5 421.5,71.2C421.5,72.8 421.7,74.8 421.2,76.6C420.6,78.3 419.3,80.1 418.1,81.8C416.9,83.5 416.1,85.2 414.1,86.7C412.2,88.3 409.2,89.6 406.5,91C403.8,92.3 400.7,93.7 398,94.8C395.2,96 392.4,96.7 390,97.7C387.7,98.8 385.3,99.7 383.7,100.9C382.1,102.1 381,103.3 380.3,105C379.7,106.7 379.6,109.1 379.7,111C379.7,112.9 380.2,114.9 380.8,116.6C381.5,118.3 382.2,119.6 383.7,121.1C385.2,122.7 387.8,124.8 389.8,125.9C391.9,127 393.2,127.2 395.9,127.7C398.6,128.2 403,128.9 406,128.9C409,128.9 411.1,128.9 414.1,127.7C417.2,126.5 421.6,123.4 424.3,121.8C427,120.2 428.7,119.3 430.4,118.1C432.1,116.8 430.5,115.6 434.5,114.2L454.9,109.8L464.5,-2.3L338.7,-2.3Z" fill="#fdbf6f"/>
<path d="M387.4,80.6C387.4,81.2 387.2,81.9 386.9,82.5C386.6,83 386.1,83.5 385.6,83.8C385,84.1 384.3,84.3 383.7,84.3C383.1,84.3 382.4,84.1 381.9,83.8C381.4,83.5 380.9,83 380.5,82.5C380.2,81.9 380.1,81.2 380.1,80.6C380.1,80 380.2,79.3 380.5,78.8C380.9,78.3 381.4,77.8 381.9,77.5C382.4,77.1 383.1,77 383.7,77C384.3,77 385,77.1 385.6,77.5C386.1,77.8 386.6,78.3 386.9,78.8C387.2,79.3 387.4,80 387.4,80.6Z" fill="#f47575"/>
<path d="M293.3,55.7L293.7,61.1C294.8,63.1 297.3,65.5 299.4,67.7C301.4,69.9 303.9,72.1 305.9,74.3C308,76.4 309.8,78.4 311.5,80.7C313.3,83 315.1,85.8 316.2,88.2C317.3,90.5 317.3,93.5 318,94.7C318.8,96 319.7,96.3 320.8,95.7C321.9,95.1 323.8,92.5 324.6,91C325.4,89.4 326,87.7 325.6,86.3C325.1,85 323.2,84.4 321.8,82.7C320.4,81 318.3,78.3 317.2,76.1C316.1,73.9 315.7,72 315.2,69.5C314.8,67 314.7,63.4 314.5,61.1L314.5,55.7L293.3,55.7Z" fill="#88c296"/>
<path d="M396.9,220.7C397.5,218.5 398.7,215.7 399.7,214.3C400.7,212.8 401.8,212.3 403.1,212.1C404.4,212 406.3,212.5 407.4,213.3C408.6,214.1 409.2,215.4 409.9,217.2C410.5,218.9 410.8,221.5 411.3,223.9C411.8,226.3 412.4,228.8 412.8,231.7L413.2,241.3L395.8,244.2L396.3,227.8C396.5,223.9 396.3,223 396.9,220.7Z" fill="#88c296"/>
<path d="M324.9,188.9C325,189.1 325,189.4 324.9,189.7C324.8,190 324.5,190.4 324.2,190.7C323.8,191 323.4,191.3 322.9,191.5C322.5,191.7 322,191.9 321.5,191.9C321.1,192 320.6,192 320.3,191.9C320,191.8 319.8,191.5 319.7,191.3C319.5,191.1 319.6,190.8 319.7,190.5C319.8,190.1 320.1,189.8 320.4,189.5C320.7,189.2 321.2,188.9 321.6,188.7C322.1,188.5 322.6,188.3 323,188.3C323.5,188.2 323.9,188.2 324.2,188.3C324.6,188.4 324.8,188.6 324.9,188.9Z" fill="#69bb54"/>
<path d="M322.4,125C322.9,122.7 323.8,121.1 325.2,120C326.6,118.9 329,118.6 330.6,118.4C332.2,118.3 333.5,118.5 334.9,119C336.3,119.6 338.3,120.4 339,121.7C339.8,123.1 339.5,125.2 339.5,127.2C339.6,129.2 339.6,131.9 339.3,133.7C339,135.6 338.7,137.1 337.8,138.4C336.9,139.6 335.3,140.4 333.9,141C332.5,141.5 331,141.9 329.4,141.5C327.9,141.2 326,140.1 324.7,138.8C323.4,137.5 322.2,136 321.8,133.7C321.4,131.4 321.8,127.3 322.4,125Z" fill="#3284bb"/>
<path d="M311,60.5C311,61.1 310.8,61.7 310.5,62.2C310.2,62.7 309.7,63.2 309.1,63.5C308.6,63.7 307.9,63.9 307.3,63.9C306.7,63.9 306,63.7 305.4,63.5C304.9,63.2 304.4,62.7 304.1,62.2C303.8,61.7 303.6,61.1 303.6,60.5C303.6,60 303.8,59.3 304.1,58.8C304.4,58.3 304.9,57.9 305.4,57.6C306,57.3 306.7,57.1 307.3,57.1C307.9,57.1 308.6,57.3 309.1,57.6C309.7,57.9 310.2,58.3 310.5,58.8C310.8,59.3 311,60 311,60.5Z" fill="#3284bb"/>
<path d="M290.3,272.7C292.5,270.6 296.8,267.8 300.5,265.8C304.2,263.8 308.9,262.1 312.6,260.7C316.3,259.3 319.8,258.3 322.9,257.3L331,254.9L338.7,278.1L302,307.1L293.7,294.5C291.4,290.8 289,287.6 287.9,284.8C286.9,282.1 286.9,280.1 287.3,278.1C287.6,276 288,274.7 290.3,272.7Z" fill="#3284bb"/>
</g>
<polygon points="202.4,61.2 294.5,60.1 329,56.7 370.6,37.2 418.5,5 437.4,100 447.8,227 420.5,235 397.5,237.4 387,219.8 353.5,233.8 325.3,251.3 330.6,268.2 308,287 275.3,323.2 269.6,319.2 247.9,252.3 260.8,237 286.5,215.3 286.5,183.5 252.9,119.7 216.6,119.7 206.1,98" fill="none" stroke="#000" stroke-width="3.9" stroke-linejoin="round"/>
<text x="62.5" y="30" class="pt">Zn</text>
<text x="93.5" y="47.6" text-anchor="middle" class="nl">N</text>
<polygon points="93.5,74 93.5,50.5 90.4,70.9" fill="#fff" stroke="#000" stroke-width="0.9" stroke-linejoin="miter"/>
<polygon points="93.5,74 93.5,50.5 96.6,70.9" fill="#000" stroke="#000" stroke-width="0.9" stroke-linejoin="miter"/>
<polygon points="93.5,74 117,74 96.6,70.9" fill="#fff" stroke="#000" stroke-width="0.9" stroke-linejoin="miter"/>
<polygon points="93.5,74 117,74 96.6,77.1" fill="#000" stroke="#000" stroke-width="0.9" stroke-linejoin="miter"/>
<polygon points="93.5,74 93.5,97.5 96.6,77.1" fill="#fff" stroke="#000" stroke-width="0.9" stroke-linejoin="miter"/>
<polygon points="93.5,74 93.5,97.5 90.4,77.1" fill="#000" stroke="#000" stroke-width="0.9" stroke-linejoin="miter"/>
<polygon points="93.5,74 70,74 90.4,77.1" fill="#fff" stroke="#000" stroke-width="0.9" stroke-linejoin="miter"/>
<polygon points="93.5,74 70,74 90.4,70.9" fill="#000" stroke="#000" stroke-width="0.9" stroke-linejoin="miter"/>
<rect x="72.7" y="285.3" width="42.5" height="7.2" fill="#fff" stroke="#000" stroke-width="1"/>
<rect x="115.2" y="285.3" width="42.5" height="7.2" fill="#000" stroke="#000" stroke-width="1"/>
<text x="72.7" y="305" text-anchor="middle" class="sb">0.0</text>
<text x="115.2" y="305" text-anchor="middle" class="sb">0.1</text>
<text x="149.35" y="305" class="sb">0.2 km</text>
<text x="514.6" y="25.6" class="lt">Zn</text>
<rect x="515.9" y="32.10" width="9.2" height="9.71" fill="#a6cee3"/>
<text x="527.6" y="39.83" class="lg">0.461 to 0.555</text>
<rect x="515.9" y="41.76" width="9.2" height="9.71" fill="#3284bb"/>
<text x="527.6" y="49.49" class="lg">0.555 to 0.651</text>
<rect x="515.9" y="51.42" width="9.2" height="9.71" fill="#88c296"/>
<text x="527.6" y="59.15" class="lg">0.651 to 0.696</text>
<rect x="515.9" y="61.08" width="9.2" height="9.71" fill="#69bb54"/>
<text x="527.6" y="68.81" class="lg">0.696 to 0.735</text>
<rect x="515.9" y="70.74" width="9.2" height="9.71" fill="#899d5b"/>
<text x="527.6" y="78.47" class="lg">0.735 to 0.805</text>
<rect x="515.9" y="80.40" width="9.2" height="9.71" fill="#f47575"/>
<text x="527.6" y="88.13" class="lg">0.805 to 0.993</text>
<rect x="515.9" y="90.06" width="9.2" height="9.71" fill="#e73228"/>
<text x="527.6" y="97.79" class="lg">0.993 to 1.164</text>
<rect x="515.9" y="99.72" width="9.2" height="9.71" fill="#fdbf6f"/>
<text x="527.6" y="107.45" class="lg">1.164 to 1.313</text>
</g>
<rect x="52.5" y="3.5" width="545" height="321.5" fill="none" stroke="#333" stroke-width="1"/>
<rect x="54.5" y="446.5" width="562.2" height="331.4" fill="none" stroke="#333" stroke-width="1"/>
<text x="315.8" y="397.7" text-anchor="middle" class="cap">(O)</text>
<text x="332.3" y="852.2" text-anchor="middle" class="cap">(P)</text>
</svg>
</body></html>
